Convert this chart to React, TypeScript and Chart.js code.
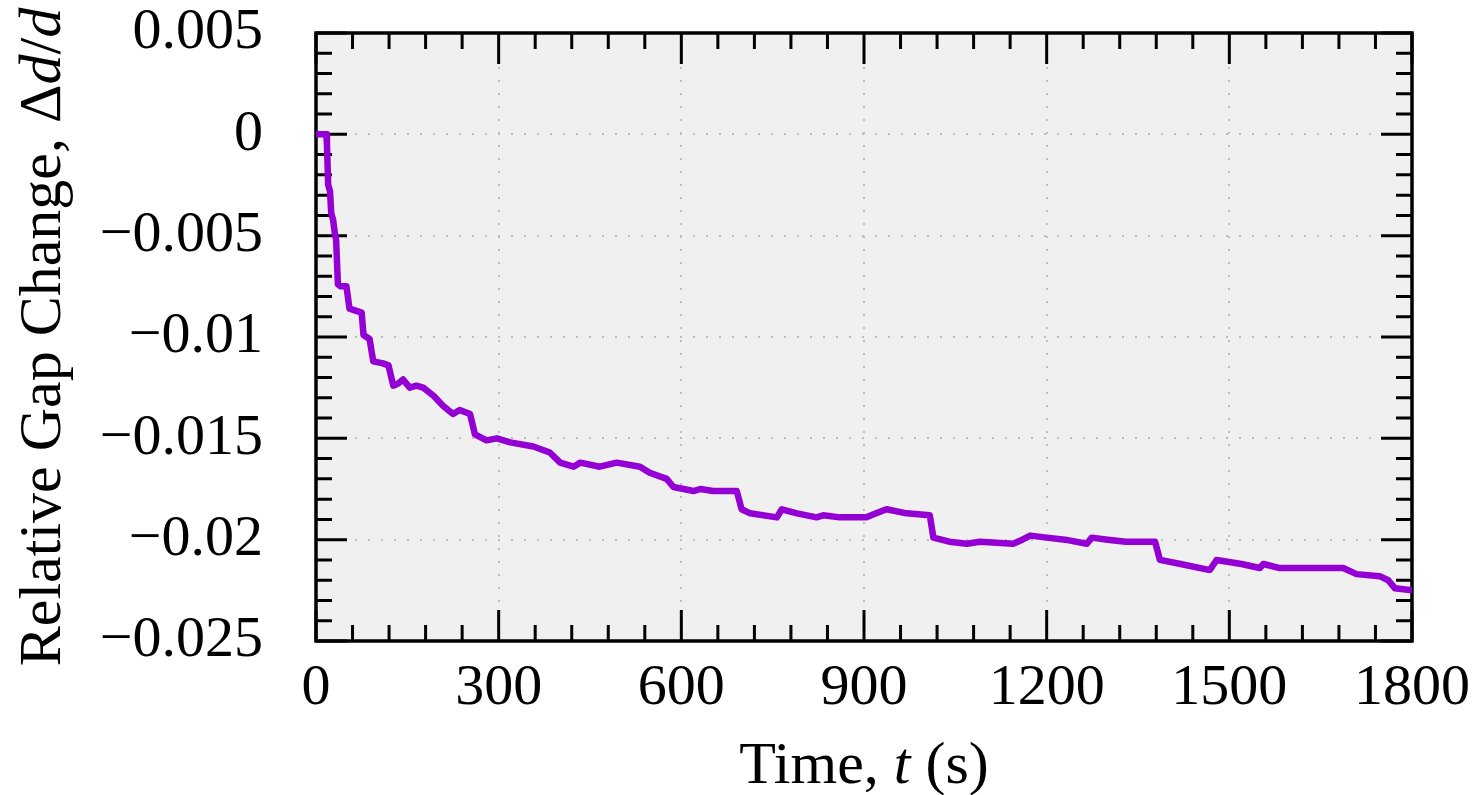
import React, { useEffect, useRef } from 'react';
import { Chart, registerables } from 'chart.js';

Chart.register(...registerables);

// ---- data ----
const timeS = [
  0, 10, 17, 18, 20, 23, 25, 28, 31, 33, 36, 40, 50, 55, 65, 75, 78, 88, 94, 110,
  119, 127, 135, 143, 154, 165, 176, 193, 209, 225, 236, 253, 261, 280, 297, 319, 357, 384, 401, 423,
  434, 466, 480, 494, 532, 548, 576, 587, 620, 631, 652, 670, 691, 699, 713, 757, 765, 790, 822, 833,
  860, 904, 920, 937, 970, 1008, 1014, 1040, 1069, 1090, 1145, 1160, 1173, 1200, 1230, 1266, 1274, 1300, 1330, 1378,
  1386, 1420, 1468, 1479, 1520, 1550, 1556, 1583, 1620, 1687, 1709, 1747, 1761, 1772, 1800,
];
const gapChange = [
  0, 0, 0, -0.0005, -0.0025, -0.0028, -0.0039, -0.0042, -0.0049, -0.0052, -0.0074, -0.0075, -0.0075, -0.0086, -0.0087, -0.0088, -0.0099, -0.0101, -0.0112, -0.0113,
  -0.0114, -0.0124, -0.0123, -0.0121, -0.0125, -0.0124, -0.0125, -0.0129, -0.0134, -0.0138, -0.0136, -0.0138, -0.0148, -0.0151, -0.015, -0.0152, -0.0154, -0.0157, -0.0162, -0.0164,
  -0.0162, -0.0164, -0.0163, -0.0162, -0.0164, -0.0167, -0.017, -0.0174, -0.0176, -0.0175, -0.0176, -0.0176, -0.0176, -0.0185, -0.0187, -0.0189, -0.0185, -0.0187, -0.0189, -0.0188,
  -0.0189, -0.0189, -0.0187, -0.0185, -0.0187, -0.0188, -0.0199, -0.0201, -0.0202, -0.0201, -0.0202, -0.02, -0.0198, -0.0199, -0.02, -0.0202, -0.0199, -0.02, -0.0201, -0.0201,
  -0.021, -0.0212, -0.0215, -0.021, -0.0212, -0.0214, -0.0212, -0.0214, -0.0214, -0.0214, -0.0217, -0.0218, -0.022, -0.0224, -0.0225,
];

const xTickValues = [0, 300, 600, 900, 1200, 1500, 1800];
const xTickLabels = ['0', '300', '600', '900', '1200', '1500', '1800'];
const yTickValues = [0.005, 0, -0.005, -0.01, -0.015, -0.02, -0.025];
const yTickLabels = ['0.005', '0', '\u22120.005', '\u22120.01', '\u22120.015', '\u22120.02', '\u22120.025'];

const xTitleParts = [
  { text: 'Time, ', italic: false },
  { text: 't', italic: true },
  { text: ' (s)', italic: false },
];
const yTitleParts = [
  { text: 'Relative Gap Change, \u0394', italic: false },
  { text: 'd', italic: true },
  { text: '/', italic: false },
  { text: 'd', italic: true },
];

const SERIF = "'Liberation Serif', 'Times New Roman', serif";

function drawParts(ctx: CanvasRenderingContext2D, parts: { text: string; italic: boolean }[], size: number) {
  const fonts = parts.map((p) => `${p.italic ? 'italic ' : ''}${size}px ${SERIF}`);
  const widths = parts.map((p, i) => {
    ctx.font = fonts[i];
    return ctx.measureText(p.text).width;
  });
  const total = widths.reduce((a, b) => a + b, 0);
  let x = -total / 2;
  parts.forEach((p, i) => {
    ctx.font = fonts[i];
    ctx.fillText(p.text, x, 0);
    x += widths[i];
  });
}

const framePlugin = {
  id: 'gnuFrame',
  beforeDraw(chart: any) {
    const { ctx, chartArea: a } = chart;
    ctx.save();
    ctx.fillStyle = '#f0f0f0';
    ctx.fillRect(a.left, a.top, a.right - a.left, a.bottom - a.top);
    ctx.restore();
  },
  beforeDatasetsDraw(chart: any) {
    const { ctx, chartArea: a } = chart;
    const xs = chart.scales.x;
    const ys = chart.scales.y;
    ctx.save();
    // dotted grid
    ctx.strokeStyle = '#bdbdbd';
    ctx.lineWidth = 2;
    ctx.setLineDash([2, 11]);
    xTickValues.slice(1, -1).forEach((v) => {
      const px = Math.round(xs.getPixelForValue(v));
      ctx.beginPath();
      ctx.moveTo(px, a.bottom);
      ctx.lineTo(px, a.top);
      ctx.stroke();
    });
    yTickValues.slice(1, -1).forEach((v) => {
      const py = Math.round(ys.getPixelForValue(v));
      ctx.beginPath();
      ctx.moveTo(a.left, py);
      ctx.lineTo(a.right, py);
      ctx.stroke();
    });
    ctx.setLineDash([]);
    // ticks
    ctx.strokeStyle = '#000';
    ctx.lineWidth = 3;
    const major = 31;
    const minor = 16;
    const xSorted = [...xTickValues].sort((p, q) => p - q);
    for (let i = 0; i < xSorted.length; i++) {
      const v = xSorted[i];
      const px = xs.getPixelForValue(v);
      ctx.beginPath();
      ctx.moveTo(px, a.bottom);
      ctx.lineTo(px, a.bottom - major);
      ctx.moveTo(px, a.top);
      ctx.lineTo(px, a.top + major);
      ctx.stroke();
      if (i < xSorted.length - 1) {
        const step = (xSorted[i + 1] - v) / 5;
        for (let k = 1; k < 5; k++) {
          const mp = xs.getPixelForValue(v + k * step);
          ctx.beginPath();
          ctx.moveTo(mp, a.bottom);
          ctx.lineTo(mp, a.bottom - minor);
          ctx.moveTo(mp, a.top);
          ctx.lineTo(mp, a.top + minor);
          ctx.stroke();
        }
      }
    }
    const ySorted = [...yTickValues].sort((p, q) => p - q);
    for (let i = 0; i < ySorted.length; i++) {
      const v = ySorted[i];
      const py = ys.getPixelForValue(v);
      ctx.beginPath();
      ctx.moveTo(a.left, py);
      ctx.lineTo(a.left + major, py);
      ctx.moveTo(a.right, py);
      ctx.lineTo(a.right - major, py);
      ctx.stroke();
      if (i < ySorted.length - 1) {
        const step = (ySorted[i + 1] - v) / 5;
        for (let k = 1; k < 5; k++) {
          const mp = ys.getPixelForValue(v + k * step);
          ctx.beginPath();
          ctx.moveTo(a.left, mp);
          ctx.lineTo(a.left + minor, mp);
          ctx.moveTo(a.right, mp);
          ctx.lineTo(a.right - minor, mp);
          ctx.stroke();
        }
      }
    }
    // frame
    ctx.lineWidth = 3.5;
    ctx.strokeRect(a.left, a.top, a.right - a.left, a.bottom - a.top);
    ctx.restore();
  },
  afterDraw(chart: any) {
    const { ctx, chartArea: a } = chart;
    ctx.save();
    ctx.fillStyle = '#000';
    ctx.textBaseline = 'alphabetic';
    ctx.textAlign = 'left';
    // x title
    ctx.save();
    ctx.translate((a.left + a.right) / 2, 783);
    drawParts(ctx, xTitleParts, 60);
    ctx.restore();
    // y title
    ctx.save();
    ctx.translate(60, (a.top + a.bottom) / 2);
    ctx.rotate(-Math.PI / 2);
    drawParts(ctx, yTitleParts, 60);
    ctx.restore();
    ctx.restore();
  },
};

export default function App() {
  const canvasRef = useRef<HTMLCanvasElement | null>(null);

  useEffect(() => {
    const canvas = canvasRef.current;
    if (!canvas) return;
    const points = timeS.map((t, i) => ({ x: t, y: gapChange[i] }));
    const tickFont = { family: SERIF, size: 58 };
    const chart = new Chart(canvas, {
      type: 'line',
      data: {
        datasets: [
          {
            data: points,
            borderColor: '#9400D3',
            backgroundColor: '#9400D3',
            borderWidth: 6.5,
            pointRadius: 0,
            tension: 0,
            borderJoinStyle: 'round',
            fill: false,
          },
        ],
      },
      options: {
        animation: false,
        responsive: false,
        devicePixelRatio: 1,
        layout: { autoPadding: false, padding: { top: 33, right: 64, left: 0, bottom: 0 } },
        plugins: { legend: { display: false }, tooltip: { enabled: false } },
        events: [],
        scales: {
          x: {
            type: 'linear',
            min: 0,
            max: 1800,
            grid: { display: false, drawTicks: false },
            border: { display: false },
            afterBuildTicks: (s: any) => {
              s.ticks = xTickValues.map((v) => ({ value: v }));
            },
            afterFit: (s: any) => {
              s.height = 154;
              s.paddingLeft = 0;
              s.paddingRight = 0;
            },
            ticks: {
              autoSkip: false,
              maxRotation: 0,
              minRotation: 0,
              padding: 13,
              color: '#000',
              font: tickFont,
              callback: (_v: any, i: number) => xTickLabels[i],
            },
          },
          y: {
            type: 'linear',
            min: -0.025,
            max: 0.005,
            grid: { display: false, drawTicks: false },
            border: { display: false },
            afterBuildTicks: (s: any) => {
              s.ticks = yTickValues.map((v) => ({ value: v }));
            },
            afterFit: (s: any) => {
              s.width = 316;
              s.paddingTop = 0;
              s.paddingBottom = 0;
            },
            ticks: {
              autoSkip: false,
              padding: 53,
              color: '#000',
              font: tickFont,
              callback: (_v: any, i: number) => yTickLabels[i],
            },
          },
        },
      },
      plugins: [framePlugin],
    } as any);
    return () => chart.destroy();
  }, []);

  return (
    <div style={{ position: 'fixed', left: 0, top: 0, width: 1476, height: 795, background: '#fff' }}>
      <canvas ref={canvasRef} width={1476} height={795} style={{ width: 1476, height: 795, display: 'block' }} />
    </div>
  );
}
